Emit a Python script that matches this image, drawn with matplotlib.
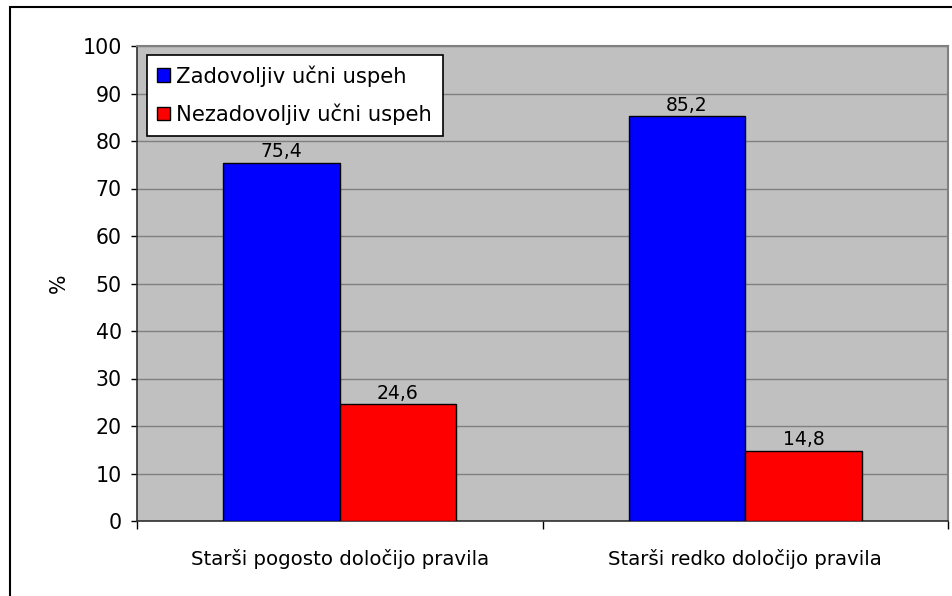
import matplotlib.pyplot as plt
import numpy as np
from matplotlib.patches import Rectangle

categories = ["Starši pogosto določijo pravila", "Starši redko določijo pravila"]
series_names = ["Zadovoljiv učni uspeh", "Nezadovoljiv učni uspeh"]
zadovoljiv = [75.4, 85.2]
nezadovoljiv = [24.6, 14.8]
colors = ["#0000FF", "#FF0000"]

fig = plt.figure(figsize=(9.53, 5.96), dpi=100)
ax = fig.add_axes([137 / 953, 75 / 596, 811 / 953, 475 / 596])
ax.set_facecolor("#C0C0C0")

# okvir okoli celotne slike
fig.patches.append(Rectangle((10 / 953, -0.1), 1.0, (596 - 7) / 596 + 0.1,
                             transform=fig.transFigure, fill=False,
                             edgecolor="black", linewidth=1.5))

x = np.arange(len(categories)) + 0.5
w = 0.287
b1 = ax.bar(x - w / 2, zadovoljiv, w, color=colors[0], edgecolor="black",
            linewidth=1, label=series_names[0], zorder=3)
b2 = ax.bar(x + w / 2, nezadovoljiv, w, color=colors[1], edgecolor="black",
            linewidth=1, label=series_names[1], zorder=3)

for bars in (b1, b2):
    for r in bars:
        v = r.get_height()
        ax.text(r.get_x() + r.get_width() / 2, v + 0.3, f"{v:.1f}".replace(".", ","),
                ha="center", va="bottom", fontsize=13.5, zorder=4)

ax.set_xlim(0, 2)
ax.set_ylim(0, 100)
ax.set_yticks(np.arange(0, 101, 10))
ax.set_xticks([0, 1, 2])
ax.set_xticklabels([])
ax.set_xticks(x, minor=True)
ax.set_xticklabels(categories, minor=True, fontsize=14.2)
ax.tick_params(axis="x", which="minor", length=0, pad=20)
ax.tick_params(axis="x", which="major", length=5.5, width=1, direction="out")
ax.tick_params(axis="y", length=4, width=1, direction="out", labelsize=14.8, pad=7)

ax.yaxis.grid(True, color="#808080", linewidth=1)
ax.set_axisbelow(True)

for s in ("top", "right"):
    ax.spines[s].set_color("#808080")
    ax.spines[s].set_linewidth(1.5)
for s in ("left", "bottom"):
    ax.spines[s].set_color("#303030")
    ax.spines[s].set_linewidth(1.2)

ax.set_ylabel("%", fontsize=14.8, labelpad=10)

leg = ax.legend(loc="upper left", bbox_to_anchor=(0.012, 0.982), fontsize=15.2,
                fancybox=False, edgecolor="black", framealpha=1,
                handlelength=0.6, handleheight=0.6, handletextpad=0.3,
                borderpad=0.5, labelspacing=0.8, borderaxespad=0)
leg.get_frame().set_linewidth(1.2)

fig.savefig("out.png", dpi=100)
